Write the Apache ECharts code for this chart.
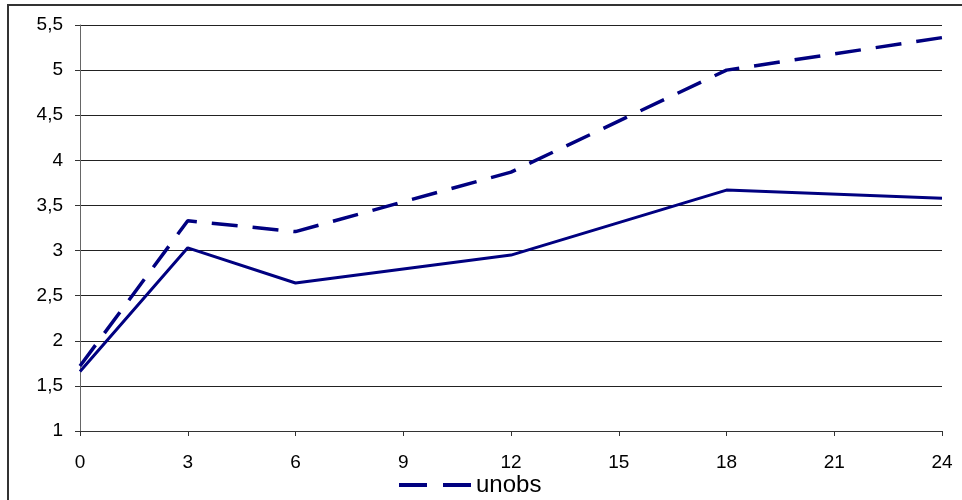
<!DOCTYPE html>
<html>
<head>
<meta charset="utf-8">
<script src="https://cdn.jsdelivr.net/npm/echarts@6/dist/echarts.min.js"></script>
<style>
  html, body { margin: 0; padding: 0; background: #fff; }
  #chart { width: 962px; height: 500px; }
</style>
</head>
<body>
<div id="chart"></div>
<script>
// Months since baseline
const months = [0, 3, 6, 12, 18, 24];
// Observed trajectory (solid)
const obsValues = [1.66, 3.03, 2.64, 2.95, 3.67, 3.58];
// Unobserved trajectory (dashed)
const unobsValues = [1.72, 3.33, 3.21, 3.87, 5.0, 5.36];
const unobsName = 'unobs';

const toPairs = (xs, ys) => xs.map((x, i) => [x, ys[i]]);
const fmtComma = v => String(v).replace('.', ',');

const chart = echarts.init(document.getElementById('chart'), null, { renderer: 'canvas' });
const navy = '#000080';
const labelFont = { fontFamily: '"Liberation Sans", Arial, sans-serif', fontSize: 19, color: '#000' };

chart.setOption({
  animation: false,
  backgroundColor: '#fff',
  graphic: [{
    type: 'rect',
    shape: { x: 8, y: 5, width: 1000, height: 600 },
    style: { fill: 'none', stroke: '#333', lineWidth: 2 },
    silent: true
  }],
  grid: { left: 80, right: 20, top: 25, bottom: 69 },
  legend: {
    data: [unobsName],
    top: 473,
    left: 399,
    padding: 0,
    icon: 'path://M0,0h28v4h-28z M44,0h28v4h-28z',
    itemWidth: 72,
    itemHeight: 4,
    itemGap: 8,
    textStyle: { fontFamily: '"Liberation Sans", Arial, sans-serif', fontSize: 24, color: '#000' }
  },
  xAxis: {
    type: 'value',
    min: 0, max: 24, interval: 3,
    axisLine: { show: true, lineStyle: { color: '#333', width: 1 } },
    axisTick: { show: true, inside: false, length: 5, lineStyle: { color: '#333' } },
    axisLabel: Object.assign({ margin: 22 }, labelFont),
    splitLine: { show: false }
  },
  yAxis: {
    type: 'value',
    min: 1, max: 5.5, interval: 0.5,
    axisLine: { show: true, lineStyle: { color: '#666', width: 1 } },
    axisTick: { show: true, inside: false, length: 5, lineStyle: { color: '#333' } },
    axisLabel: Object.assign({ margin: 17, formatter: fmtComma }, labelFont),
    splitLine: { show: true, lineStyle: { color: '#222', width: 1 } }
  },
  series: [
    {
      name: 'obs',
      type: 'line',
      data: toPairs(months, obsValues),
      symbol: 'none',
      lineStyle: { color: navy, width: 3 },
      itemStyle: { color: navy },
      z: 3
    },
    {
      name: unobsName,
      type: 'line',
      data: toPairs(months, unobsValues),
      symbol: 'none',
      lineStyle: { color: navy, width: 3.5, type: [26, 15] },
      itemStyle: { color: navy },
      z: 4
    }
  ]
});
</script>
</body>
</html>
